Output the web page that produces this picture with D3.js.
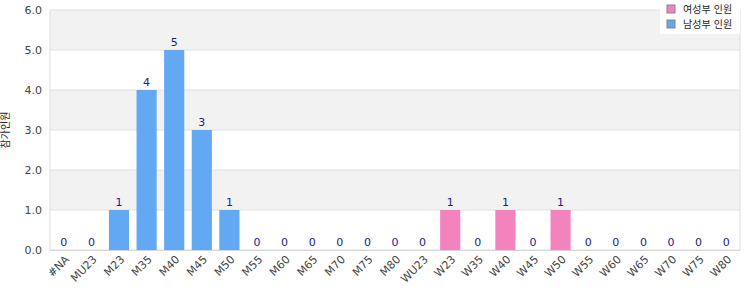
<!DOCTYPE html>
<html>
<head>
<meta charset="utf-8">
<script src="https://cdn.jsdelivr.net/npm/d3@7"></script>
<style>
  body { margin: 0; background: #fff; }
  text { font-family: "DejaVu Sans", "Noto Sans CJK KR", sans-serif; }
</style>
</head>
<body>
<div id="chart"></div>
<script>
var categories = ["#NA", "MU23", "M23", "M35", "M40", "M45", "M50", "M55", "M60", "M65", "M70", "M75", "M80",
  "WU23", "W23", "W35", "W40", "W45", "W50", "W55", "W60", "W65", "W70", "W75", "W80"];
var values = [0, 0, 1, 4, 5, 3, 1, 0, 0, 0, 0, 0, 0, 0, 1, 0, 1, 0, 1, 0, 0, 0, 0, 0, 0];
var seriesOf = ["M", "M", "M", "M", "M", "M", "M", "M", "M", "M", "M", "M", "M",
  "W", "W", "W", "W", "W", "W", "W", "W", "W", "W", "W", "W"];
var legendNames = ["여성부 인원", "남성부 인원"];
var yTicks = [0, 1, 2, 3, 4, 5, 6];
var yTitle = "참가인원";

var width = 750, height = 300;
var margin = {top: 10, right: 10, bottom: 50, left: 50};
var w = width - margin.left - margin.right;
var h = height - margin.top - margin.bottom;

var colors = {W: "#f383bd", M: "#62a8f2"};

var svg = d3.select("#chart").append("svg")
  .attr("width", width)
  .attr("height", height);

var g = svg.append("g")
  .attr("transform", "translate(" + margin.left + "," + margin.top + ")");

var x = d3.scaleBand().domain(categories).range([0, w]).paddingInner(0.27).paddingOuter(0.135);
var y = d3.scaleLinear().domain([0, 6]).range([h, 0]);

// alternating bands
g.selectAll(".band")
  .data(yTicks.slice(0, -1))
  .enter().append("rect")
  .attr("x", 0)
  .attr("y", d => y(d + 1))
  .attr("width", w)
  .attr("height", d => y(d) - y(d + 1))
  .style("fill", d => d % 2 === 1 ? "#f2f2f2" : "#ffffff");

// grid lines
g.selectAll(".grid")
  .data(yTicks)
  .enter().append("line")
  .attr("x1", 0).attr("x2", w)
  .attr("y1", d => y(d)).attr("y2", d => y(d))
  .style("stroke", "#e0e0e0");

// frame
g.append("line").attr("x1", 0).attr("x2", 0).attr("y1", 0).attr("y2", h).style("stroke", "#dddddd");
g.append("line").attr("x1", w).attr("x2", w).attr("y1", 0).attr("y2", h).style("stroke", "#dddddd");
g.append("line").attr("x1", 0).attr("x2", w).attr("y1", h + 0.5).attr("y2", h + 0.5).style("stroke", "#d6d6d6");

var data = categories.map((c, i) => ({cat: c, v: values[i], s: seriesOf[i]}));

g.selectAll(".bar")
  .data(data.filter(d => d.v > 0))
  .enter().append("rect")
  .attr("class", "bar")
  .attr("x", d => x(d.cat))
  .attr("y", d => y(d.v))
  .attr("width", x.bandwidth())
  .attr("height", d => h - y(d.v))
  .style("fill", d => colors[d.s]);

g.selectAll(".lbl")
  .data(data)
  .enter().append("text")
  .attr("x", d => x(d.cat) + x.bandwidth() / 2)
  .attr("y", d => y(d.v) - 4)
  .attr("text-anchor", "middle")
  .style("font-size", "11px")
  .style("fill", "#1a1a8c")
  .text(d => d.v);

// y axis
var yAxis = d3.axisLeft(y).tickValues(yTicks).tickSize(0).tickFormat(d3.format(".1f"));
var ya = g.append("g").call(yAxis);
ya.select(".domain").remove();
ya.selectAll("text")
  .attr("x", -8)
  .style("font-size", "11px")
  .style("fill", "#444");

// x axis
var xAxis = d3.axisBottom(x).tickSize(0);
var xa = g.append("g").attr("transform", "translate(0," + h + ")").call(xAxis);
xa.select(".domain").remove();
xa.selectAll("text")
  .attr("text-anchor", "end")
  .attr("dy", "0")
  .attr("transform", "translate(4,8) rotate(-45)")
  .style("font-size", "11px")
  .style("fill", "#444");

// y title
svg.append("text")
  .attr("transform", "translate(9," + (margin.top + h / 2) + ") rotate(-90)")
  .attr("text-anchor", "middle")
  .style("font-size", "10px")
  .style("fill", "#222")
  .text(yTitle);

// legend
var lgW = 80;
var lg = svg.append("g").attr("transform", "translate(" + (740 - lgW) + ",0)");
lg.append("rect").attr("width", lgW).attr("height", 34).style("fill", "#fff");
var items = lg.selectAll(".item")
  .data(legendNames)
  .enter().append("g")
  .attr("transform", (d, i) => "translate(7," + (5 + i * 15) + ")");
items.append("rect")
  .attr("width", 8).attr("height", 8)
  .style("fill", (d, i) => i === 0 ? colors.W : colors.M)
  .style("stroke", "#888");
items.append("text")
  .attr("x", 16).attr("y", 8)
  .style("font-size", "10px")
  .style("fill", "#222")
  .text(d => d);
</script>
</body>
</html>
